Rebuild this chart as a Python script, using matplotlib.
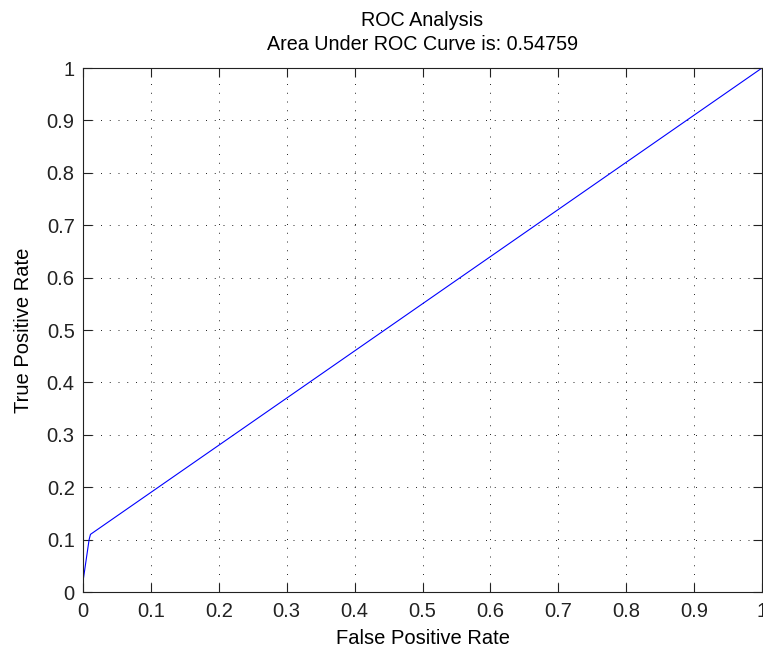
import matplotlib
matplotlib.use("Agg")
import matplotlib.pyplot as plt

fpr = [0.0, 0.009, 0.011, 1.0]
tpr = [0.02, 0.100, 0.110, 1.0]
ticks = [0, 0.1, 0.2, 0.3, 0.4, 0.5, 0.6, 0.7, 0.8, 0.9, 1]
tick_labels = ["0", "0.1", "0.2", "0.3", "0.4", "0.5", "0.6", "0.7", "0.8", "0.9", "1"]
title = "ROC Analysis\nArea Under ROC Curve is: 0.54759"

plt.rcParams['font.family'] = ['Liberation Sans', 'DejaVu Sans']

fig = plt.figure(figsize=(7.63, 6.49), dpi=100)
ax = fig.add_axes([83/763, 57/649, 679/763, 524/649])
ax.plot(fpr, tpr, color=(0, 0, 1), lw=0.8)
ax.set_xlim(0, 1)
ax.set_ylim(0, 1)
ax.set_xticks(ticks)
ax.set_xticklabels(tick_labels)
ax.set_yticks(ticks)
ax.set_yticklabels(tick_labels)
ax.tick_params(direction='in', length=6.5, width=0.8, top=True, right=True,
               labelsize=14.5, colors='#222222')
ax.tick_params(axis='x', pad=7)
ax.tick_params(axis='y', pad=6)
ax.grid(True, color='#222222', linestyle=(0, (1, 8)), linewidth=0.7)
for s in ax.spines.values():
    s.set_linewidth(0.8)
    s.set_color('#222222')
ax.set_xlabel("False Positive Rate", fontsize=14.5, labelpad=6)
ax.set_ylabel("True Positive Rate", fontsize=14.5, labelpad=10)
ax.set_title(title, fontsize=14.2, linespacing=1.3, pad=13)
fig.savefig("out.png", dpi=100)
